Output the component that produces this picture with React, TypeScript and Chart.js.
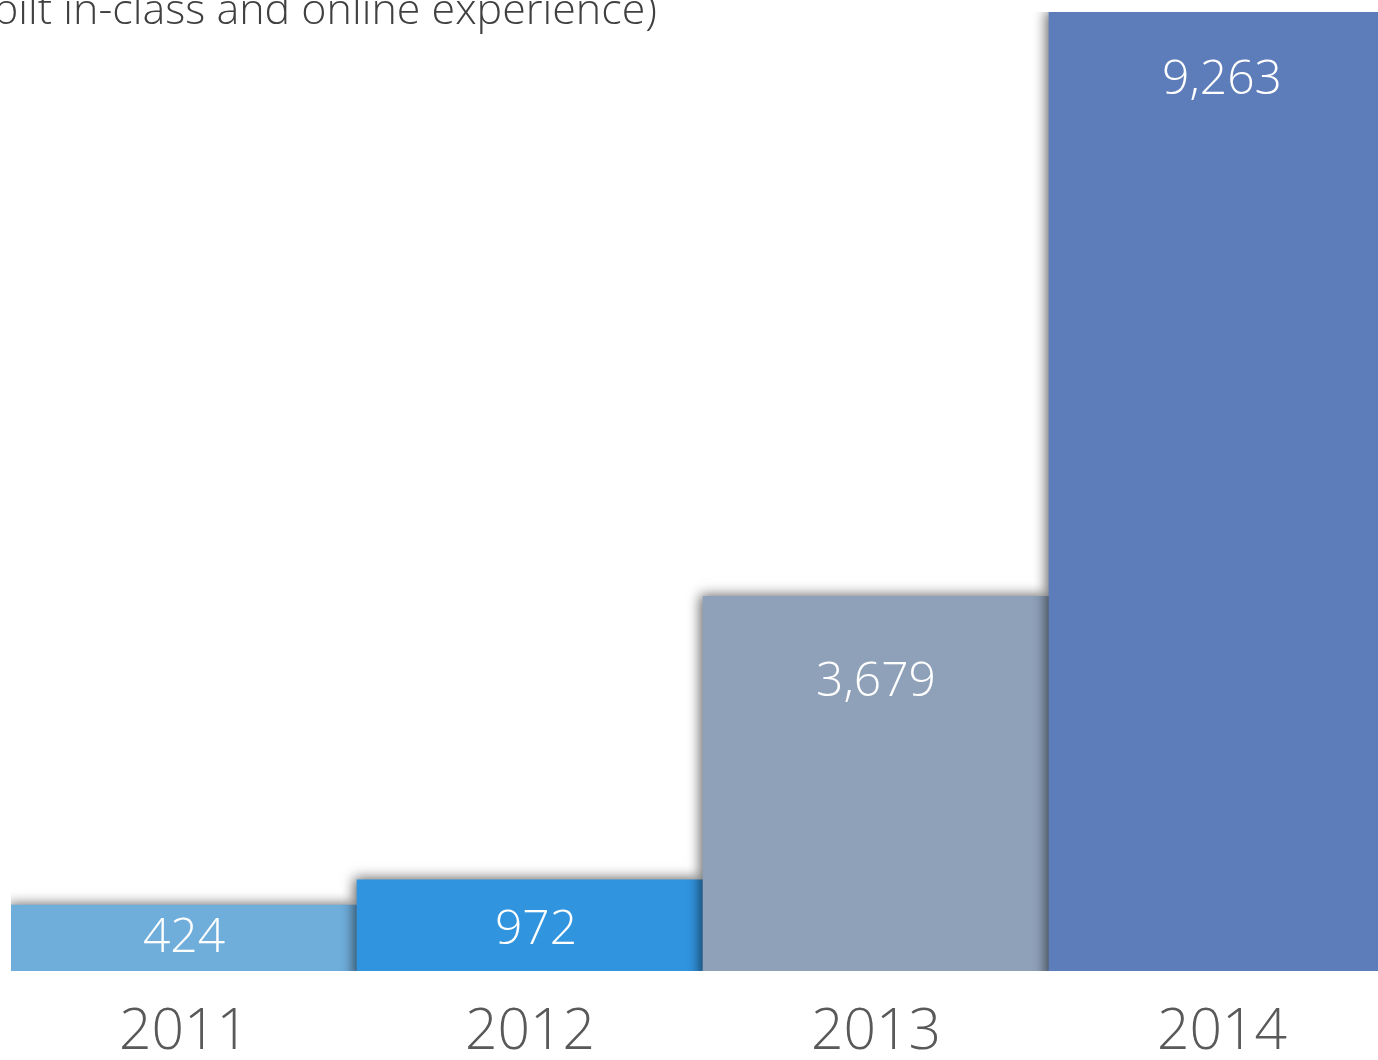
import React, { useEffect, useRef } from "react";
import { Chart, registerables } from "chart.js";

Chart.register(...registerables);

const years = ["2011", "2012", "2013", "2014"];
const students = [424, 972, 3679, 9263];
const barColors = ["#6FADDB", "#3194DF", "#8FA1B9", "#5D7CBA"];
const titleText = "bilt in-class and online experience)";

export default function App() {
  const ref = useRef<HTMLCanvasElement>(null);

  useEffect(() => {
    document.body.style.margin = "0";
    const canvas = ref.current!;

    const shadowPlugin = {
      id: "barShadow",
      beforeDatasetDraw(chart: any) {
        const c = chart.ctx;
        c.save();
        c.shadowColor = "rgba(0,0,0,0.6)";
        c.shadowBlur = 12;
        c.shadowOffsetX = -3;
        c.shadowOffsetY = -1;
      },
      afterDatasetDraw(chart: any) {
        chart.ctx.restore();
      },
    };

    const labelPlugin = {
      id: "valueAndYearLabels",
      afterDatasetsDraw(chart: any) {
        const c = chart.ctx;
        const meta = chart.getDatasetMeta(0);
        const areaH = chart.chartArea.bottom - chart.chartArea.top;
        c.save();
        c.textAlign = "center";
        c.textBaseline = "middle";
        c.fillStyle = "#FFFFFF";
        c.font = "300 48px 'Open Sans'";
        meta.data.forEach((bar: any, i: number) => {
          const p = bar.getProps(["x", "y", "base"], true);
          const h = p.base - p.y;
          const ly = Math.min(p.y + 69 + 0.03 * (areaH - h), (p.y + p.base) / 2);
          c.fillText(students[i].toLocaleString("en-US"), p.x + (i === 1 ? 6 : 0), ly);
        });
        const xs = chart.scales.x;
        c.fillStyle = "#595959";
        c.font = "300 57px 'Open Sans'";
        years.forEach((yr, i) => {
          c.fillText(yr, xs.getPixelForTick(i), chart.chartArea.bottom + 62);
        });
        c.restore();
      },
    };

    const chart = new Chart(canvas, {
      type: "bar",
      data: {
        labels: years,
        datasets: [
          {
            data: students,
            backgroundColor: barColors,
            borderWidth: 0,
            barPercentage: 1,
            categoryPercentage: 1,
            minBarLength: 66,
          },
        ],
      },
      options: {
        responsive: false,
        animation: false,
        devicePixelRatio: 1,
        layout: { padding: { left: 11, right: 25, top: 12, bottom: 89 } },
        plugins: { legend: { display: false }, tooltip: { enabled: false }, title: { display: false } },
        scales: {
          x: { display: false, grid: { display: false } },
          y: { display: false, min: 100, max: 9263, grid: { display: false } },
        },
      },
      plugins: [shadowPlugin, labelPlugin],
    });
    return () => chart.destroy();
  }, []);

  return (
    <div style={{ position: "relative", width: 1378, height: 1060, overflow: "hidden", background: "#fff" }}>
      <canvas ref={ref} width={1420} height={1060} style={{ display: "block", width: 1420, height: 1060 }} />
      <div
        style={{
          position: "absolute",
          right: 721,
          top: -14,
          fontFamily: "'Open Sans', sans-serif",
          fontWeight: 300,
          fontSize: 43,
          lineHeight: "43px",
          color: "#404040",
          whiteSpace: "nowrap",
        }}
      >
        {titleText}
      </div>
    </div>
  );
}
